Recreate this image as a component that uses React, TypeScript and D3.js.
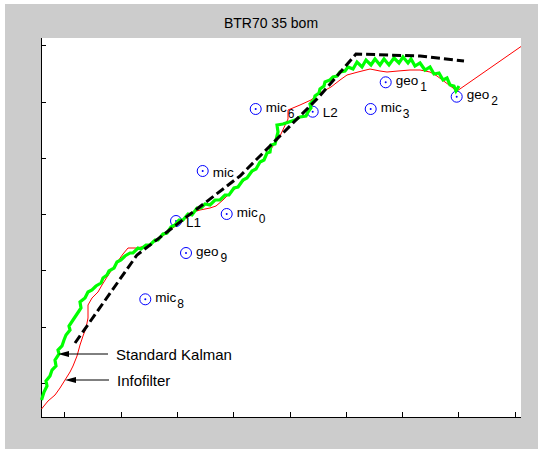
import React from "react";
import * as d3 from "d3";

// Track estimates for the BTR70 run (field units, origin at lower-left of the axes)
const kalmanX = [0.5,3,6,5,9,11,15,14,18,17,21,23,25,29,28,32,34,38,40,39,44,47,51,55,60,62,66,68,73,76,80,84,89,92,97,100,105,109,114,117,122,126,130,134,138,142,147,151,156,160,164,169,174,179,184,188,193,197,202,206,211,215,219,223,226,229,230,234,236,237,236,242,248,254,259,265,267,270,269,273,274,278,279,283,284,289,292,296,299,304,307,312,316,321,325,330,334,339,343,348,353,358,362,367,370,374,379,384,389,393,398,402,406,409,413,415,418];
const kalmanY = [17,25,31,36,41,47,51,57,63,67,71,77,82,87,91,97,100,106,109,115,119,125,127,131,134,139,142,146,149,155,157,161,164,164,169,168,172,172,177,177,183,184,190,192,197,197,203,202,209,209,213,212,217,217,222,222,229,230,237,239,246,248,255,257,264,265,272,273,281,285,292,293,295,297,300,301,305,309,313,317,321,324,328,331,335,337,340,341,345,346,350,348,355,350,357,352,358,352,358,352,359,354,360,354,358,351,354,347,350,343,344,337,339,332,331,326,331];

const infoX = [0.5,7,14,19,24,29,32,36,39,42,45,47,47,51,57,61,66,72,77,82,87,96,104,110,116,122,129,136,142,149,159,169,175,182,189,199,209,219,227,235,239,247,247,259,270,279,290,299,306,317,329,339,346,357,369,379,389,396,404,412,416,480];
const infoY = [8,16,22,29,37,45,51,61,72,81,89,99,112,119,125,132,140,149,156,163,169,169,171,173,177,181,187,192,198,204,207,209,211,217,224,232,242,254,264,275,281,298,307,312,317,324,330,337,342,345,348,346,345,346,347,347,345,341,335,329,326,370.5];

const truthX = [34,96,199,277,315,379,423];
const truthY = [74,162,241,319,363,361,356];

// Sensor and landmark positions
const siteNames = ["L1","mic","mic","mic","L2","geo","mic","geo","geo","mic"];
const siteSubs = ["","0","","6","","1","3","2","9","8"];
const siteX = [135,185.7,161.7,214.7,271.7,344.7,329.7,415.7,145,104.3];
const siteY = [196,203,246,308,305.3,334.7,308,320.3,164,117.7];

// Legend callouts pointing at each estimate
const noteText = ["Standard Kalman","Infofilter"];
const noteTipX = [17,24];
const noteTipY = [63,37];
const noteTextX = [75,76];

const xTicks = [23.3,79.6,135.9,192.2,248.5,304.8,361.1,417.4,473.7];
const yTicks = [34,90.3,146.6,202.9,259.2,315.5,371.8];

const W = 538, H = 449;
const FONT = "'Liberation Sans', Arial, Helvetica, sans-serif";

export default function App() {
  const x = d3.scaleLinear().domain([0, 480]).range([41, 521]);
  const y = d3.scaleLinear().domain([0, 379]).range([417, 38]);
  const line = d3.line<[number, number]>().x(d => x(d[0])).y(d => y(d[1]));

  const kalman = kalmanX.map((v, i) => [v, kalmanY[i]] as [number, number]);
  const info = infoX.map((v, i) => [v, infoY[i]] as [number, number]);
  const truth = truthX.map((v, i) => [v, truthY[i]] as [number, number]);

  const x0 = x(0), x1 = x(480), y0 = y(0), y1 = y(379);

  return (
    <svg width={W} height={H} style={{ position: "absolute", left: 0, top: 0 }} fontFamily={FONT}>
      <rect x={0} y={0} width={W} height={H} fill="#ffffff" />
      <rect x={5} y={4} width={W - 5} height={H - 4} fill="#cccccc" />
      <rect x={x0} y={y1} width={x1 - x0} height={y0 - y1} fill="#ffffff" />

      <text x={271} y={28} textAnchor="middle" fontSize={14} fill="#000">BTR70 35 bom</text>

      {/* axes: left and bottom only, ticks drawn inward */}
      <g stroke="#000" strokeWidth={1} shapeRendering="crispEdges">
        <line x1={x0} y1={y1} x2={x0} y2={y0 + 0.5} />
        <line x1={x0} y1={y0} x2={x1} y2={y0} />
        {yTicks.map((t, i) => (
          <line key={"yt" + i} x1={x0} x2={x0 + 5} y1={Math.round(y(t))} y2={Math.round(y(t))} />
        ))}
        {xTicks.map((t, i) => (
          <line key={"xt" + i} x1={Math.round(x(t))} x2={Math.round(x(t))} y1={y0} y2={y0 - 5} />
        ))}
      </g>

      {/* sensor sites */}
      {siteX.map((sx, i) => {
        const cx = x(sx), cy = y(siteY[i]);
        const hasSub = siteSubs[i] !== "";
        return (
          <g key={"s" + i}>
            <circle cx={cx} cy={cy} r={5.5} fill="none" stroke="#0000ff" strokeWidth={1} />
            <circle cx={cx} cy={cy} r={1} fill="#0000ff" />
            <text x={cx + 10} y={cy + (hasSub ? 2.5 : 5.5)} fontSize={13.5} fill="#000">
              {siteNames[i]}
              {hasSub && (
                <tspan dx={siteNames[i] === "geo" ? 2 : 1} dy={6} fontSize={12}>{siteSubs[i]}</tspan>
              )}
            </text>
          </g>
        );
      })}

      {/* estimates and ground truth */}
      <path d={line(info) || ""} fill="none" stroke="#ff0000" strokeWidth={1} strokeLinejoin="round" />
      <path d={line(kalman) || ""} fill="none" stroke="#00ff00" strokeWidth={3.2} strokeLinejoin="miter" strokeMiterlimit={3} />
      <path d={line(truth) || ""} fill="none" stroke="#000" strokeWidth={3} strokeDasharray="9,4" />

      {/* callouts */}
      {noteText.map((t, i) => {
        const tx = x(noteTipX[i]), ty = y(noteTipY[i]);
        const lx = x(noteTextX[i]);
        return (
          <g key={"n" + i}>
            <line x1={lx - 8} y1={ty} x2={tx + 8} y2={ty} stroke="#000" strokeWidth={1} />
            <path d={`M${tx},${ty}L${tx + 11},${ty - 3}L${tx + 11},${ty + 3}Z`} fill="#000" />
            <text x={lx} y={ty + 6} fontSize={15} fill="#000">{t}</text>
          </g>
        );
      })}
    </svg>
  );
}
